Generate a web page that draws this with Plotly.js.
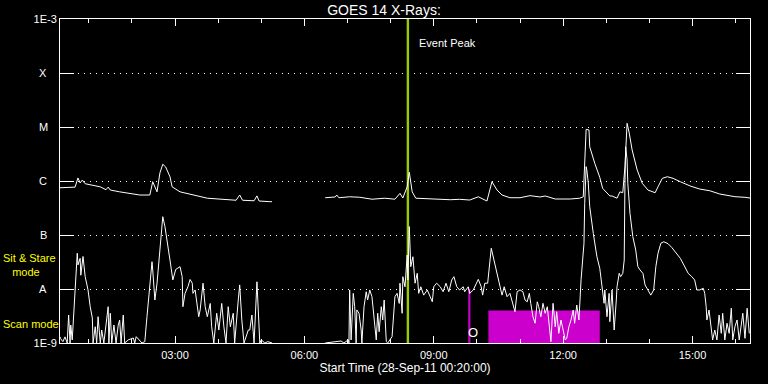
<!DOCTYPE html>
<html>
<head>
<meta charset="utf-8">
<script src="https://cdn.plot.ly/plotly-3.0.1.min.js"></script>
<style>html,body{margin:0;padding:0;background:#000;}#chart{width:768px;height:384px;}</style>
</head>
<body>
<div id="chart"></div>
<script>
const DAY = '2011-09-28 ';

// Long-wavelength channel (upper curve), W/m^2 ; null = data gap
const longTime = ['00:20','00:41','00:45','00:48','00:51','00:55','01:16','01:24','01:27','01:30','01:43','02:11','02:25','02:29','02:35','02:39','02:43','02:47','02:53','02:56','03:07','03:35','03:45','04:25','04:30','04:34','04:39','04:50','04:54','04:57','05:12','05:15','05:50','06:29','06:43','06:45','06:48','07:03','07:17','07:34','07:52','08:06','08:13','08:17','08:23','08:26','08:30','08:35','08:55','09:23','09:36','09:50','10:02','10:14','10:21','10:28','10:35','10:46','11:00','11:14','11:28','11:35','11:49','12:10','12:23','12:28','12:29','12:32','12:36','12:37','12:44','12:51','12:55','13:05','13:08','13:15','13:19','13:23','13:26','13:29','13:32','13:36','13:43','13:50','13:58','14:08','14:12','14:18','14:25','14:33','14:43','14:57','15:10','15:24','15:38','15:59','16:13','16:20'];
const longFlux = [7.5e-7,7.7e-7,1.14e-6,9.2e-7,1.04e-6,8.9e-7,7.8e-7,6.9e-7,7.7e-7,6.8e-7,6.3e-7,5.5e-7,5.5e-7,9.7e-7,6.3e-7,1.41e-6,2.04e-6,1.82e-6,1.2e-6,7.8e-7,6.3e-7,5.1e-7,4.8e-7,4.4e-7,5.5e-7,4.4e-7,4.4e-7,4.3e-7,5.3e-7,4.26e-7,4.14e-7,4.14e-7,null,4.9e-7,5.06e-7,5.5e-7,4.9e-7,5.1e-7,5.0e-7,4.6e-7,4.8e-7,4.6e-7,5.9e-7,4.84e-7,7.8e-7,1.45e-6,6.3e-7,4.8e-7,4.64e-7,4.5e-7,4.58e-7,4.44e-7,5.1e-7,4.26e-7,9.7e-7,6.8e-7,5.5e-7,4.9e-7,4.9e-7,5.35e-7,5.06e-7,5.28e-7,4.64e-7,4.64e-7,4.8e-7,5.1e-7,1.04e-6,9.06e-6,8.8e-6,4.3e-6,2.13e-6,1.17e-6,7.3e-7,5.28e-7,5.28e-7,4.8e-7,6.3e-7,6.07e-7,1.84e-6,1.17e-5,7.7e-6,3.75e-6,1.6e-6,9.1e-7,6.8e-7,6.07e-7,7.8e-7,1.12e-6,1.2e-6,1.12e-6,9.7e-7,8.07e-7,7.1e-7,6.6e-7,5.74e-7,5.12e-7,4.99e-7,4.84e-7];

// Short-wavelength channel (lower curve), W/m^2 ; null = data gap
const shortTime = ['00:20','00:21','00:24','00:27','00:30','00:32','00:34','00:35','00:37','00:41','00:44','00:45','00:48','00:49','00:52','00:55','00:59','01:02','01:05','01:06','01:09','01:11','01:13','01:16','01:18','01:21','01:27','01:28','01:30','01:32','01:35','01:38','01:41','01:43','01:45','01:48','01:50','01:55','02:02','02:04','02:06','02:14','02:18','02:21','02:24','02:28','02:29','02:31','02:32','02:35','02:39','02:43','02:46','02:49','02:53','02:57','03:01','03:07','03:10','03:11','03:14','03:18','03:21','03:24','03:25','03:28','03:31','03:33','03:35','03:39','03:42','03:45','03:49','03:51','03:54','03:58','04:01','04:05','04:08','04:11','04:14','04:17','04:21','04:23','04:28','04:30','04:33','04:36','04:42','04:44','04:47','04:50','04:54','04:57','04:58','05:00','05:05','05:09','05:15','05:50','06:29','06:51','06:55','07:01','07:02','07:03','07:05','07:08','07:10','07:12','07:13','07:16','07:19','07:20','07:23','07:26','07:28','07:31','07:34','07:37','07:40','07:42','07:44','07:47','07:49','07:51','07:54','07:56','08:02','08:06','08:09','08:12','08:13','08:16','08:17','08:20','08:23','08:24','08:26','08:28','08:31','08:34','08:37','08:39','08:42','08:46','08:51','08:55','08:58','09:00','09:04','09:09','09:13','09:17','09:21','09:25','09:28','09:32','09:36','09:41','09:43','09:48','09:50','09:55','09:59','10:02','10:06','10:08','10:11','10:15','10:20','10:24','10:28','10:32','10:35','10:38','10:42','10:46','10:50','10:53','10:56','11:00','11:04','11:07','11:10','11:13','11:15','11:18','11:21','11:24','11:26','11:29','11:32','11:35','11:38','11:40','11:43','11:46','11:49','11:51','11:54','11:57','12:00','12:03','12:05','12:08','12:11','12:14','12:16','12:19','12:22','12:23','12:25','12:29','12:30','12:32','12:33','12:35','12:37','12:42','12:47','12:51','12:54','12:57','12:58','13:01','13:04','13:05','13:08','13:11','13:14','13:15','13:18','13:20','13:23','13:25','13:26','13:27','13:29','13:30','13:33','13:37','13:41','13:44','13:47','13:51','13:54','13:58','14:02','14:06','14:09','14:12','14:16','14:20','14:26','14:31','14:38','14:43','14:48','14:54','14:59','15:03','15:06','15:10','15:15','15:17','15:19','15:20','15:23','15:26','15:28','15:31','15:34','15:37','15:40','15:42','15:45','15:48','15:51','15:54','15:56','15:59','16:02','16:05','16:07','16:10','16:13','16:16','16:19'];
const shortFlux = [1.3e-9,1.2e-9,1.06e-9,1.3e-9,1e-9,3.3e-9,1e-9,2.15e-9,1.14e-9,9.6e-9,4.6e-8,2.8e-8,3.7e-8,1.8e-8,4e-8,1.7e-8,9.6e-9,4.7e-9,2.9e-9,1e-9,2e-9,1e-9,3.07e-9,1e-9,1.74e-9,1e-9,4.7e-9,1e-9,3.55e-9,1e-9,2.15e-9,1e-9,2.15e-9,2.67e-9,1e-9,3.3e-9,1e-9,1.14e-9,1.24e-9,1e-9,1.31e-9,1e-9,1.06e-9,3.07e-9,9.6e-9,3.2e-8,2.25e-8,9.6e-9,6.25e-9,1.28e-8,6.07e-8,2.18e-7,1.43e-7,7.1e-8,3.44e-8,1.47e-8,2.3e-8,2.59e-8,1.69e-8,4.7e-9,8.3e-9,1.1e-8,1.5e-8,1.28e-8,8.3e-9,9.6e-9,5.4e-9,3.07e-9,4.1e-9,1.28e-8,4.7e-9,3.07e-9,5.4e-9,2e-9,1e-9,3.55e-9,1.74e-9,5.4e-9,2e-9,1e-9,4.7e-9,2e-9,3.55e-9,1e-9,6.25e-9,1.19e-8,2.67e-9,1e-9,1.74e-9,1.74e-9,3.3e-9,1e-9,1.36e-8,1.51e-9,1e-9,1.14e-9,1e-9,1.06e-9,1e-9,null,1e-9,1.09e-9,1e-9,1.14e-9,1e-9,9.6e-9,1.14e-9,8.3e-9,4.7e-9,1e-9,4.1e-9,3.55e-9,1.74e-9,1e-9,4.7e-9,8.9e-9,6.25e-9,9.6e-9,7.2e-9,2.67e-9,1.14e-9,3.55e-9,1.62e-9,4.7e-9,2.67e-9,6.25e-9,1.06e-9,1e-9,1.31e-9,7.2e-9,8.3e-9,5.4e-9,1.28e-8,3.55e-9,1.69e-8,1.1e-8,4.26e-8,1.47e-8,1.43e-7,2.59e-8,3.96e-8,1.28e-8,1.95e-8,8.3e-9,1.1e-8,7.7e-9,9.6e-9,7.2e-9,5.8e-9,1.1e-8,1.28e-8,1.1e-8,8.9e-9,1.28e-8,8.9e-9,1.47e-8,1.69e-8,1.1e-8,9.6e-9,1.1e-8,8.9e-9,1.1e-8,8.3e-9,9.6e-9,1.28e-8,1.51e-8,1.1e-8,7.7e-9,1.28e-8,1.28e-8,5.68e-8,3.44e-8,2.09e-8,1.28e-8,7.7e-9,1.1e-8,7.2e-9,8.3e-9,5.43e-9,3.8e-9,8.9e-9,9.6e-9,8.9e-9,6.25e-9,5.8e-9,8.3e-9,5.43e-9,3.07e-9,2.32e-9,5.8e-9,4.7e-9,3.07e-9,5.43e-9,3.55e-9,4.7e-9,2.67e-9,1.06e-9,5.43e-9,2e-9,3.8e-9,1.51e-9,2.67e-9,1.74e-9,1.14e-9,1.22e-9,2e-9,2.67e-9,4.08e-9,2.32e-9,5.05e-9,2.67e-9,4.7e-9,1.5e-8,7e-8,3.8e-7,1.84e-6,1.6e-6,9.2e-7,3.34e-7,1.07e-7,3.96e-8,2.42e-8,1.1e-8,5.43e-9,9.6e-9,3.07e-9,8.3e-9,2.48e-9,9.6e-9,1.74e-9,6.25e-9,1.1e-8,1.95e-8,1.69e-8,1.95e-8,3.44e-8,9.1e-7,4.3e-6,2.45e-6,9.1e-7,2.52e-7,9.3e-8,5.27e-8,2.59e-8,2.25e-8,1.95e-8,1.19e-8,9.6e-9,7.7e-9,9.6e-9,2.59e-8,4.58e-8,7.05e-8,7.5e-8,6.9e-8,5.9e-8,4.58e-8,3.71e-8,2.78e-8,1.95e-8,1.69e-8,1.47e-8,9.6e-9,9.6e-9,1.03e-8,8.3e-9,4.7e-9,2.67e-9,4.08e-9,2e-9,1.14e-9,1.74e-9,1.14e-9,3.3e-9,1.51e-9,3.55e-9,1.14e-9,2.32e-9,1.51e-9,4.4e-9,1.14e-9,2e-9,2.67e-9,1.14e-9,2e-9,3.55e-9,1.22e-9,4.4e-9,1.51e-9];

// Observation modes (magenta bars)
const modeName  = ['Sit & Stare', 'Scan'];
const modeStart = ['09:48', '10:16'];
const modeEnd   = ['09:51', '12:51'];
const modeLevel = [1e-8, 4e-9];

// Event peak
const eventPeak = ['08:24'];

// Axis
const axisRange = ['00:20', '16:20'];
const fluxFloor = 1e-9, fluxTop = 1e-3;
const yTickVals = [1e-9, 1e-8, 1e-7, 1e-6, 1e-5, 1e-4, 1e-3];
const yTickText = ['1E-9', '', '', '', '', '', '1E-3'];
const gradeLevels = [1e-8, 1e-7, 1e-6, 1e-5, 1e-4];
const gradeNames = ['A', 'B', 'C', 'M', 'X'];

const T = a => a.map(s => DAY + s);
const FONT = 'Liberation Sans, Arial, sans-serif';

const traces = [];
modeStart.forEach((s, i) => {
  traces.push({
    x: T([s, s, modeEnd[i], modeEnd[i], s]),
    y: [fluxFloor, modeLevel[i], modeLevel[i], fluxFloor, fluxFloor],
    type: 'scatter', mode: 'lines', fill: 'toself',
    fillcolor: '#cc00cc', line: {width: 0, color: '#cc00cc'},
    name: modeName[i], hoverinfo: 'skip', showlegend: false
  });
});
traces.push({
  x: T([eventPeak[0], eventPeak[0]]), y: [fluxFloor, fluxTop],
  type: 'scatter', mode: 'lines', line: {color: '#99cc00', width: 2.4},
  showlegend: false, hoverinfo: 'skip'
});
traces.push({
  x: T(longTime), y: longFlux, type: 'scatter', mode: 'lines',
  line: {color: '#ffffff', width: 1}, connectgaps: false, showlegend: false
});
traces.push({
  x: T(shortTime), y: shortFlux, type: 'scatter', mode: 'lines',
  line: {color: '#ffffff', width: 1}, connectgaps: false, showlegend: false
});

const annotations = [];
gradeLevels.forEach((v, i) => annotations.push({
  text: gradeNames[i], xref: 'paper', yref: 'y', x: -0.024, y: Math.log10(v),
  xanchor: 'center', yanchor: 'middle', showarrow: false,
  font: {family: FONT, size: 11, color: '#ffffff'}
}));
annotations.push({
  text: 'Event Peak', xref: 'x', yref: 'paper', x: DAY + eventPeak[0], y: 0.926,
  xanchor: 'left', yanchor: 'middle', xshift: 9, showarrow: false,
  font: {family: FONT, size: 11, color: '#ffffff'}
});
annotations.push({
  text: 'Sit & Stare<br>&nbsp;&nbsp;&nbsp;mode', xref: 'paper', yref: 'paper', x: -0.086, y: 0.241,
  xanchor: 'left', yanchor: 'middle', align: 'left', showarrow: false,
  font: {family: FONT, size: 11, color: '#ffff00'}
});
annotations.push({
  text: 'Scan mode', xref: 'paper', yref: 'paper', x: -0.086, y: 0.0586,
  xanchor: 'left', yanchor: 'middle', showarrow: false,
  font: {family: FONT, size: 11, color: '#ffff00'}
});
annotations.push({
  text: 'O', xref: 'x', yref: 'paper', x: DAY + modeEnd[0], y: 0.031,
  xanchor: 'center', yanchor: 'middle', xshift: 3, showarrow: false,
  font: {family: FONT, size: 13, color: '#ffffff'}
});

const layout = {
  width: 768, height: 384,
  paper_bgcolor: '#000000', plot_bgcolor: '#000000',
  margin: {l: 60, r: 18, t: 19, b: 41, pad: 0},
  showlegend: false,
  title: {text: 'GOES 14 X-Rays:', x: 0.5, xref: 'container', xanchor: 'center',
          y: 0.975, yref: 'container', yanchor: 'middle',
          font: {family: FONT, size: 14, color: '#ffffff'}},
  xaxis: {
    type: 'date', range: T(axisRange),
    tickformat: '%H:%M', tick0: DAY + '03:00', dtick: 3 * 3600000,
    ticks: 'inside', ticklen: 7, tickwidth: 1, tickcolor: '#ffffff',
    minor: {dtick: 3600000, tick0: DAY + '03:00', ticks: 'inside', ticklen: 4, tickwidth: 1, tickcolor: '#ffffff', showgrid: false},
    showline: true, linecolor: '#ffffff', linewidth: 1, mirror: 'ticks',
    showgrid: false, zeroline: false, ticklabelstandoff: 2,
    tickfont: {family: FONT, size: 11, color: '#ffffff'},
    title: {text: 'Start Time (28-Sep-11 00:20:00)', standoff: 3,
            font: {family: FONT, size: 12, color: '#ffffff'}},
    automargin: false, fixedrange: true
  },
  yaxis: {
    type: 'log', range: [Math.log10(fluxFloor), Math.log10(fluxTop)],
    tickvals: yTickVals, ticktext: yTickText,
    ticks: 'inside', ticklen: 14, tickwidth: 1, tickcolor: '#ffffff',
    showline: true, linecolor: '#ffffff', linewidth: 1, mirror: 'ticks',
    showgrid: true, gridcolor: '#ffffff', gridwidth: 1, griddash: '1px,5px',
    zeroline: false,
    tickfont: {family: FONT, size: 11, color: '#ffffff'},
    automargin: false, fixedrange: true
  },
  annotations: annotations
};

Plotly.newPlot('chart', traces, layout, {staticPlot: true, displayModeBar: false});
</script>
</body>
</html>
